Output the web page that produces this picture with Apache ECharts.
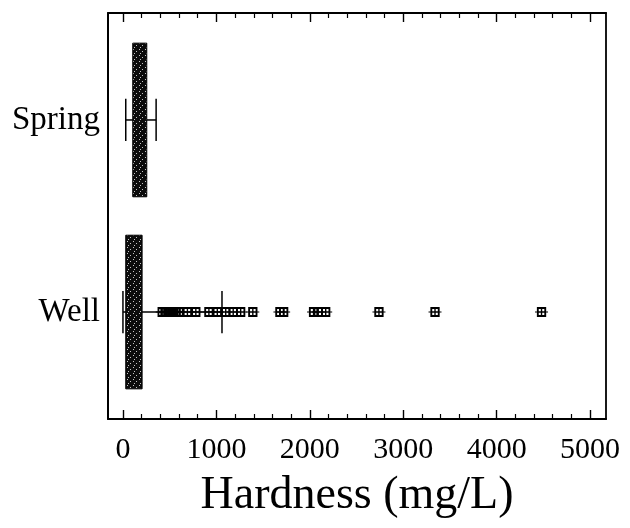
<!DOCTYPE html>
<html>
<head>
<meta charset="utf-8">
<script src="https://cdn.jsdelivr.net/npm/echarts@6/dist/echarts.min.js"></script>
<style>
  html, body { margin: 0; padding: 0; background: #fff; }
  #chart { width: 630px; height: 528px; }
</style>
</head>
<body>
<div id="chart"></div>
<script>
// Groups plotted on the vertical axis (value positions 0 and 1)
const groups = ['Well', 'Spring'];
const groupPos = [0, 1];

// Box extents (25th to 75th percentile), hardness in mg/L
const boxQ1 = [30, 105];
const boxQ3 = [205, 255];

// Whisker ends (low, high), mg/L
const whiskerLow = [0, 30];
const whiskerHigh = [1060, 355];

// Individual high values plotted beyond the Well box, mg/L
const wellOutliers = [420, 450, 480, 510, 540, 570, 600, 690, 780, 920, 1010,
  1100, 1180, 1260, 1390, 1680, 1720, 2040, 2090, 2170, 2740, 3340, 4480];

// Axis tick labels
const tickLabels = [0, 1000, 2000, 3000, 4000, 5000];

// Plot frame and axis ranges
const CHART_W = 630, CHART_H = 528;
const GRID = { left: 108, right: 24, top: 13, bottom: 109, outerBoundsMode: 'none' };
const X_MIN = -160, X_MAX = 5170;
const Y_MIN = -0.557, Y_MAX = 1.557;
const BOX_HALF = 0.40;
const CAP_HALF = 0.11;
const FONT = '"Liberation Serif", "Times New Roman", serif';

// A second grid, on the same pixel scale, spans exactly the tick range so the
// major/minor ticks can be laid out with a plain interval from 0.
const pxPerUnit = (CHART_W - GRID.left - GRID.right) / (X_MAX - X_MIN);
const TICK_MIN = tickLabels[0], TICK_MAX = tickLabels[tickLabels.length - 1];
const tickGrid = {
  left: GRID.left + (TICK_MIN - X_MIN) * pxPerUnit,
  right: GRID.right + (X_MAX - TICK_MAX) * pxPerUnit,
  top: GRID.top, bottom: GRID.bottom, outerBoundsMode: 'none'
};

// Speckled dark fill for the boxes
function makeSpeckle() {
  const c = document.createElement('canvas');
  c.width = 6; c.height = 6;
  const g = c.getContext('2d');
  g.fillStyle = '#0c0c0c';
  g.fillRect(0, 0, 6, 6);
  g.fillStyle = 'rgba(230,230,230,0.85)';
  [[1, 1], [4, 3], [2, 5]].forEach(p => g.fillRect(p[0], p[1], 1, 1));
  return c;
}
const speckle = { image: makeSpeckle(), repeat: 'repeat' };

// Square marker with a cross inside and short side stubs
const squareCross = 'path://M0,0L10,0L10,10L0,10Z' +
  'M2,2L2,4.25L4.25,4.25L4.25,2Z' +
  'M5.75,2L5.75,4.25L8,4.25L8,2Z' +
  'M2,5.75L2,8L4.25,8L4.25,5.75Z' +
  'M5.75,5.75L5.75,8L8,8L8,5.75Z' +
  'M-2,4.5L0,4.5L0,5.5L-2,5.5Z' +
  'M10,4.5L12,4.5L12,5.5L10,5.5Z';

const boxData = groupPos.map((p, i) => [p, boxQ1[i], boxQ3[i]]);
const whiskerData = groupPos.map((p, i) => [p, whiskerLow[i], whiskerHigh[i]]);
const outlierData = wellOutliers.map(v => [v, groupPos[0]]);

function tickAxis(pos) {
  return {
    type: 'value', gridIndex: 1, position: pos,
    min: TICK_MIN, max: TICK_MAX, interval: 1000,
    axisLine: { show: false, onZero: false },
    axisTick: { show: true, inside: true, length: 9,
      lineStyle: { color: '#000', width: 1.4 } },
    minorTick: { show: true, splitNumber: 5, length: 5,
      lineStyle: { color: '#000', width: 1.2 } },
    axisLabel: { show: false },
    splitLine: { show: false }, minorSplitLine: { show: false }
  };
}

const chart = echarts.init(document.getElementById('chart'), null, { renderer: 'canvas' });
chart.setOption({
  animation: false,
  backgroundColor: '#fff',
  grid: [GRID, tickGrid],
  xAxis: [
    {
      type: 'value', gridIndex: 0, position: 'bottom', min: X_MIN, max: X_MAX,
      axisLine: { show: true, onZero: false, lineStyle: { color: '#000', width: 2 } },
      axisTick: { show: false },
      axisLabel: { customValues: tickLabels, formatter: v => String(v),
        fontFamily: FONT, fontSize: 30, color: '#000', margin: 16 },
      splitLine: { show: false },
      name: 'Hardness (mg/L)', nameLocation: 'middle', nameGap: 54,
      nameTextStyle: { fontFamily: FONT, fontSize: 46, color: '#000' }
    },
    {
      type: 'value', gridIndex: 0, position: 'top', min: X_MIN, max: X_MAX,
      axisLine: { show: true, onZero: false, lineStyle: { color: '#000', width: 1.8 } },
      axisTick: { show: false }, axisLabel: { show: false }, splitLine: { show: false }
    },
    tickAxis('bottom'),
    tickAxis('top')
  ],
  yAxis: [
    {
      type: 'value', gridIndex: 0, position: 'left', min: Y_MIN, max: Y_MAX,
      axisLine: { show: true, onZero: false, lineStyle: { color: '#000', width: 2 } },
      axisTick: { show: false },
      axisLabel: { customValues: groupPos, formatter: v => groups[Math.round(v)],
        fontFamily: FONT, fontSize: 33, color: '#000', margin: 8 },
      splitLine: { show: false }
    },
    {
      type: 'value', gridIndex: 0, position: 'right', min: Y_MIN, max: Y_MAX,
      axisLine: { show: true, onZero: false, lineStyle: { color: '#000', width: 1.8 } },
      axisTick: { show: false }, axisLabel: { show: false }, splitLine: { show: false }
    },
    {
      type: 'value', gridIndex: 1, min: Y_MIN, max: Y_MAX, show: false,
      axisLine: { onZero: false }
    }
  ],
  series: [
    {
      // whisker lines with end caps
      type: 'custom', xAxisIndex: 0, yAxisIndex: 0,
      encode: { x: [1, 2], y: 0 },
      data: whiskerData, z: 2,
      renderItem: (params, api) => {
        const y = api.value(0), lo = api.value(1), hi = api.value(2);
        const a = api.coord([lo, y]), b = api.coord([hi, y]);
        const capTop = api.coord([lo, y + CAP_HALF])[1];
        const capBot = api.coord([lo, y - CAP_HALF])[1];
        const st = { stroke: '#000', lineWidth: 1.5 };
        return {
          type: 'group',
          children: [
            { type: 'line', shape: { x1: a[0], y1: a[1], x2: b[0], y2: b[1] }, style: st },
            { type: 'line', shape: { x1: a[0], y1: capTop, x2: a[0], y2: capBot }, style: st },
            { type: 'line', shape: { x1: b[0], y1: capTop, x2: b[0], y2: capBot }, style: st }
          ]
        };
      }
    },
    {
      // interquartile boxes
      type: 'custom', xAxisIndex: 0, yAxisIndex: 0,
      encode: { x: [1, 2], y: 0 },
      data: boxData, z: 3,
      renderItem: (params, api) => {
        const y = api.value(0), q1 = api.value(1), q3 = api.value(2);
        const p1 = api.coord([q1, y + BOX_HALF]);
        const p2 = api.coord([q3, y - BOX_HALF]);
        return {
          type: 'rect',
          shape: { x: p1[0], y: p1[1], width: p2[0] - p1[0], height: p2[1] - p1[1] },
          style: { fill: speckle, stroke: '#000', lineWidth: 1 }
        };
      }
    },
    {
      type: 'scatter', xAxisIndex: 0, yAxisIndex: 0,
      data: outlierData, z: 4,
      symbol: squareCross, symbolSize: [13, 10], symbolKeepAspect: false,
      itemStyle: { color: '#000', opacity: 1 }
    }
  ]
});
</script>
</body>
</html>
